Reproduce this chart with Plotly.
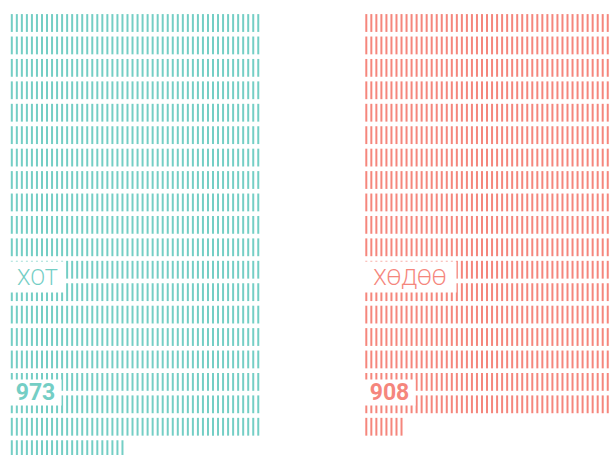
import plotly.graph_objects as go

# unit chart: one tick per person
categories = ['ХОТ', 'ХӨДӨӨ']
counts = [973, 908]
count_labels = ['973', '908']
colors = ['#74cec5', '#f5867c']
per_row = 50

# layout constants (pixels)
group_x0 = [11.8, 366.3]
pitch_x = 5.03
pitch_y = 22.43
row0_y = 23
tick_len = 18
label_w = [53, 90]

fig = go.Figure()

for name, n, color, x0 in zip(categories, counts, colors, group_x0):
    idx = list(range(n))
    xs = [x0 + (i % per_row) * pitch_x for i in idx]
    ys = [row0_y + (i // per_row) * pitch_y for i in idx]
    fig.add_trace(go.Scatter(
        x=xs, y=ys, mode='markers', name=name,
        # line-ns draws a line of about 1.41 * size
        marker={'symbol': 'line-ns', 'size': tick_len / 1.414,
                'line': {'width': 2, 'color': color}},
        hoverinfo='skip',
    ))

annotations = []
for name, lab, color, x0, w in zip(categories, count_labels, colors, group_x0, label_w):
    # white boxes sit on top of the ticks
    annotations.append(dict(
        x=x0 - 3, y=277, xref='x', yref='y', xanchor='left', yanchor='middle',
        width=w, height=28, align='center', valign='middle',
        text=name, showarrow=False, bgcolor='white', borderpad=1,
        font={'family': 'Roboto', 'size': 22, 'weight': 300, 'color': color},
    ))
    annotations.append(dict(
        x=x0 - 3, y=392.5, xref='x', yref='y', xanchor='left', yanchor='middle',
        width=49, height=23, align='center', valign='middle',
        text=lab, showarrow=False, bgcolor='white', borderpad=1,
        font={'family': 'Roboto', 'size': 23, 'weight': 700, 'color': color},
    ))

fig.update_layout(
    width=610, height=455,
    margin={'l': 0, 'r': 0, 't': 0, 'b': 0},
    paper_bgcolor='white', plot_bgcolor='white',
    showlegend=False,
    xaxis={'range': [0, 610], 'visible': False, 'fixedrange': True},
    yaxis={'range': [455, 0], 'visible': False, 'fixedrange': True},
    annotations=annotations,
)

fig.write_html("out.html", config={'displayModeBar': False},
               post_script="document.body.style.margin='0';")
